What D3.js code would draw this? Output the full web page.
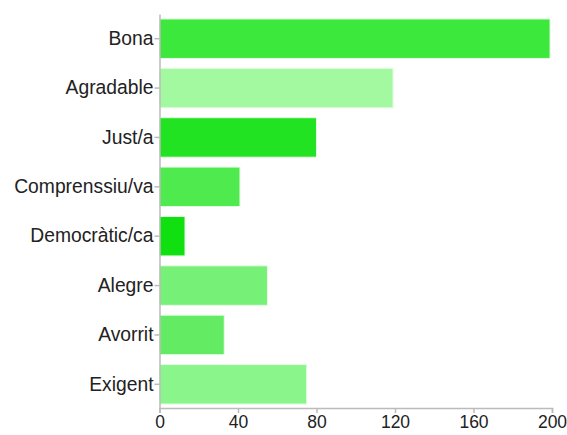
<!DOCTYPE html>
<html>
<head>
<meta charset="utf-8">
<script src="https://cdn.jsdelivr.net/npm/d3@7"></script>
<style>
  body { margin: 0; background: #fff; }
  text { font-family: "Liberation Sans", Arial, sans-serif; }
</style>
</head>
<body>
<div id="chart"></div>
<script>
var categories = ["Bona", "Agradable", "Just/a", "Comprenssiu/va", "Democràtic/ca", "Alegre", "Avorrit", "Exigent"];
var values = [199, 119, 80, 41, 13, 55, 33, 75];
var barColors = ["#3de83d", "#a3f9a0", "#22e322", "#4eea4e", "#10e010", "#76f076", "#63ec63", "#8af58a"];
var xTicks = [0, 40, 80, 120, 160, 200];

var width = 567,
    height = 435;
var margin = {top: 13, right: 15, bottom: 27, left: 159.5};

var svg = d3.select("#chart")
  .append("svg")
  .attr("width", width)
  .attr("height", height);

var x = d3.scaleLinear()
  .domain([0, 200])
  .range([margin.left, width - margin.right]);

var y = d3.scaleBand()
  .domain(categories)
  .range([margin.top + 1, height - margin.bottom + 1])
  .paddingInner(0.2)
  .paddingOuter(0.1);

// bars
svg.selectAll("rect.bar")
  .data(categories)
  .join("rect")
  .attr("class", "bar")
  .attr("x", x(0))
  .attr("y", function(d) { return y(d); })
  .attr("width", function(d, i) { return x(values[i]) - x(0); })
  .attr("height", y.bandwidth())
  .attr("fill", function(d, i) { return barColors[i]; })
  .attr("stroke", "#e6fbe6")
  .attr("stroke-width", 1);

// x axis
var xAxis = svg.append("g")
  .attr("transform", "translate(0," + (height - margin.bottom) + ")")
  .call(d3.axisBottom(x).tickValues(xTicks).tickSize(5).tickSizeOuter(5));

// y axis
var yAxis = svg.append("g")
  .attr("transform", "translate(" + margin.left + ",0)")
  .call(d3.axisLeft(y).tickSize(5).tickSizeOuter(0));

[xAxis, yAxis].forEach(function(g) {
  g.attr("font-size", null);
  g.selectAll("path, line").attr("stroke", "#bbb").attr("stroke-width", 1.5);
  g.selectAll("text")
    .attr("fill", "#222")
    .style("font-family", "'Liberation Sans', Arial, sans-serif");
});
yAxis.selectAll("text").attr("x", -6).style("font-size", "19.3px");
xAxis.selectAll("text").style("font-size", "17.5px");
</script>
</body>
</html>
